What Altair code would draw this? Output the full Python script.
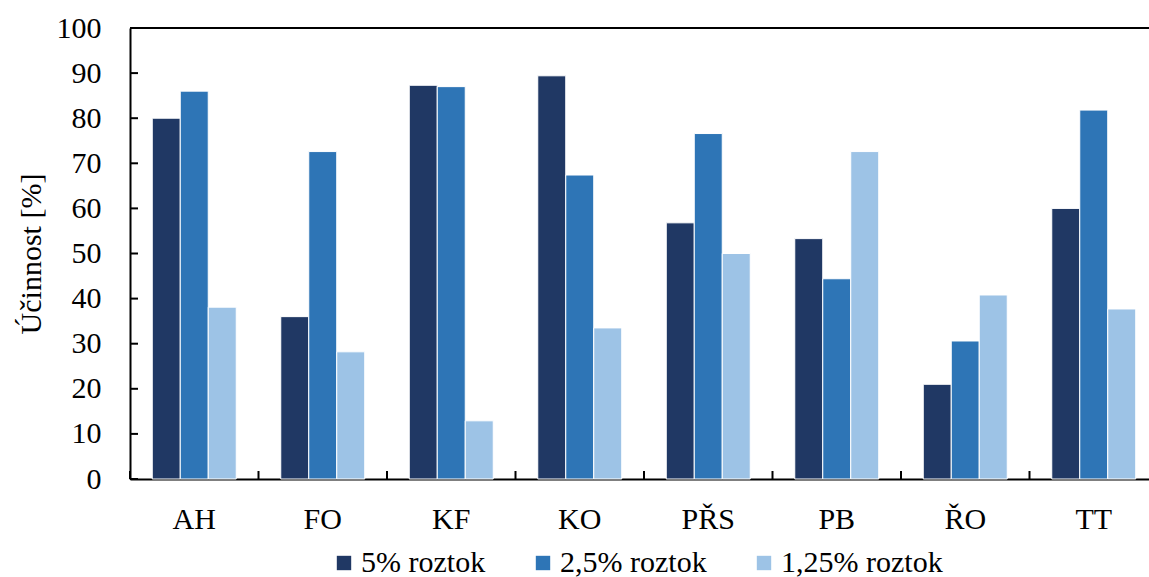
import altair as alt
import pandas as pd

# Categories and measured efficiency for each solution strength
kategorie = ["AH", "FO", "KF", "KO", "PŘS", "PB", "ŘO", "TT"]
rada_5 = [80.0, 36.0, 87.3, 89.4, 56.8, 53.3, 21.0, 60.0]
rada_25 = [86.0, 72.6, 87.0, 67.4, 76.6, 44.4, 30.6, 81.8]
rada_125 = [38.1, 28.2, 12.9, 33.5, 50.0, 72.6, 40.8, 37.7]

serie = ["5% roztok", "2,5% roztok", "1,25% roztok"]
barvy = ["#203864", "#2E75B6", "#9DC3E6"]
osa_y_hodnoty = list(range(0, 101, 10))

rows = []
for i, k in enumerate(kategorie):
    for s, vals in zip(serie, [rada_5, rada_25, rada_125]):
        rows.append({"kategorie": k, "roztok": s, "ucinnost": vals[i]})
df = pd.DataFrame(rows)

FONT = "Liberation Serif"
PLOT_W = 1019
PLOT_H = 451
X_RANGE = 1028

x_scale = alt.Scale(domain=kategorie, range=[0, X_RANGE], paddingInner=0, paddingOuter=0)
y_scale = alt.Scale(domain=[0, 100], nice=False, zero=True)

x_axis = alt.Axis(
    title=None, labelAngle=0, ticks=False, tickSize=0, labelPadding=25,
    labelFont=FONT, labelFontSize=30, labelColor="black",
    domainColor="black", domainWidth=2, grid=False,
)
y_axis = alt.Axis(
    title="Účinnost [%]", values=osa_y_hodnoty, ticks=False, tickSize=0,
    labelPadding=29, labelFont=FONT, labelFontSize=30, labelColor="black",
    titleFont=FONT, titleFontSize=30, titleFontWeight="normal",
    titleColor="black", titlePadding=10,
    domainColor="black", domainWidth=2, grid=False,
)

bars = alt.Chart(df).mark_bar(stroke="white", strokeWidth=1).encode(
    x=alt.X("kategorie:N", scale=x_scale, axis=x_axis),
    xOffset=alt.XOffset(
        "roztok:N", scale=alt.Scale(domain=serie, paddingInner=0, paddingOuter=0.795)
    ),
    y=alt.Y("ucinnost:Q", scale=y_scale, axis=y_axis),
    color=alt.Color(
        "roztok:N",
        scale=alt.Scale(domain=serie, range=barvy),
        legend=alt.Legend(
            title=None, orient="none", direction="horizontal", columns=3,
            legendX=199, legendY=520, padding=0,
            symbolType="square", symbolSize=207, symbolStrokeWidth=0,
            labelFont=FONT, labelFontSize=30, labelColor="black",
            labelOffset=2, columnPadding=42, labelLimit=400,
        ),
    ),
)

# Inward tick marks on the value axis
ticks_y = alt.Chart(pd.DataFrame({"ucinnost": osa_y_hodnoty})).mark_rule(
    color="black", strokeWidth=2
).encode(
    y=alt.Y("ucinnost:Q", scale=y_scale, axis=y_axis),
    x=alt.value(0),
    x2=alt.value(8),
)

# Inward tick marks between the category groups
ticks_x = alt.Chart(pd.DataFrame({"kategorie": kategorie})).mark_rule(
    color="black", strokeWidth=2
).encode(
    x=alt.X("kategorie:N", scale=x_scale, axis=x_axis, bandPosition=0),
    y=alt.value(PLOT_H),
    y2=alt.value(PLOT_H - 8),
)

# Top border line of the plot area
top_line = alt.Chart(pd.DataFrame({"a": [0]})).mark_rule(
    color="black", strokeWidth=2
).encode(
    x=alt.value(0),
    x2=alt.value(X_RANGE),
    y=alt.value(0),
)

chart = alt.layer(bars, ticks_y, ticks_x, top_line).properties(
    width=PLOT_W,
    height=PLOT_H,
    autosize=alt.AutoSizeParams(type="none"),
    padding={"left": 130, "top": 28, "right": 0, "bottom": 98},
    background="white",
).configure_view(stroke=None)

chart.save("out.html", embed_options={"renderer": "svg", "actions": False})
